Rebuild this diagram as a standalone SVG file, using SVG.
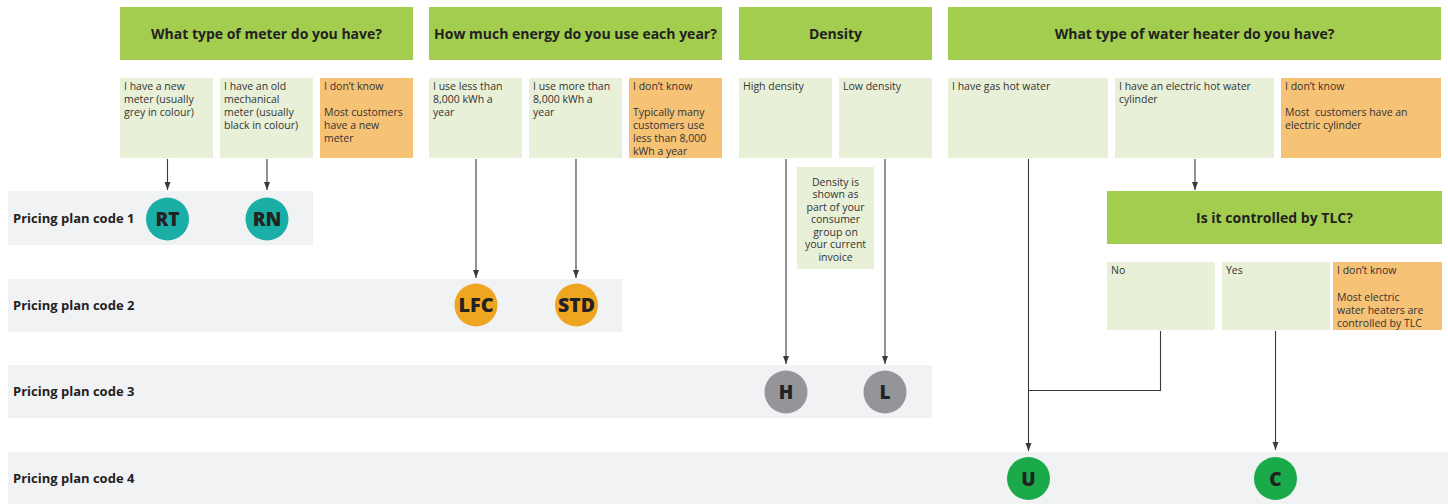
<svg xmlns="http://www.w3.org/2000/svg" width="1448" height="504" viewBox="0 0 1448 504">
<style>
.hdr{fill:#A2CD4F}
.hdr-t{font-family:"Open Sans",sans-serif;font-weight:700;font-size:14px;fill:#222;text-anchor:middle}
.opt{fill:#E9F0D8}
.dk{fill:#F6C276}
.opt-t{font-family:"Open Sans",sans-serif;font-size:10.5px;fill:#333}
.band{fill:#F1F2F4}
.band-t{font-family:"Open Sans",sans-serif;font-weight:700;font-size:13px;fill:#222}
.circ-t{font-family:"Open Sans",sans-serif;font-weight:800;font-size:19px;fill:#222;text-anchor:middle}
.note-t{font-family:"Open Sans",sans-serif;font-size:10.5px;fill:#333;text-anchor:middle}
.ln{fill:none;stroke:#3a3a3a;stroke-width:1.1}
</style>
<defs>
<marker id="arr" viewBox="0 0 8 7" refX="8" refY="3.5" markerWidth="8" markerHeight="7" markerUnits="userSpaceOnUse" orient="auto">
<path d="M0,0.5 L8,3.5 L0,6.5 Z" fill="#3a3a3a"/>
</marker>
</defs>
<rect width="1448" height="504" fill="#fff"/>

<g id="bands">
<g id="band1"><rect class="band" x="8" y="191" width="305" height="54"/><text class="band-t" x="13" y="223">Pricing plan code 1</text></g>
<g id="band2"><rect class="band" x="8" y="279" width="614" height="53"/><text class="band-t" x="13" y="310">Pricing plan code 2</text></g>
<g id="band3"><rect class="band" x="8" y="365" width="924" height="53"/><text class="band-t" x="13" y="396">Pricing plan code 3</text></g>
<g id="band4"><rect class="band" x="8" y="452" width="1440" height="52"/><text class="band-t" x="13" y="483">Pricing plan code 4</text></g>
</g>

<g id="q-meter"><rect class="hdr" x="120" y="7" width="293" height="53"/><text class="hdr-t" x="266.5" y="39">What type of meter do you have?</text></g>
<g id="q-energy"><rect class="hdr" x="429" y="7" width="293" height="53"/><text class="hdr-t" x="575.5" y="39">How much energy do you use each year?</text></g>
<g id="q-density"><rect class="hdr" x="739" y="7" width="193" height="53"/><text class="hdr-t" x="835.5" y="39">Density</text></g>
<g id="q-water"><rect class="hdr" x="948" y="7" width="493" height="53"/><text class="hdr-t" x="1194.5" y="39">What type of water heater do you have?</text></g>
<g id="q-tlc"><rect class="hdr" x="1107" y="191" width="335" height="53"/><text class="hdr-t" x="1274.5" y="223">Is it controlled by TLC?</text></g>

<g id="o-new"><rect class="opt" x="120" y="78" width="93" height="80"/><text class="opt-t"><tspan x="124" y="90">I have a new</tspan><tspan x="124" y="103">meter (usually</tspan><tspan x="124" y="116">grey in colour)</tspan></text></g>
<g id="o-old"><rect class="opt" x="220" y="78" width="93" height="80"/><text class="opt-t"><tspan x="224" y="90">I have an old</tspan><tspan x="224" y="103">mechanical</tspan><tspan x="224" y="116">meter (usually</tspan><tspan x="224" y="129">black in colour)</tspan></text></g>
<g id="o-meter-dk"><rect class="dk" x="320" y="78" width="93" height="80"/><text class="opt-t"><tspan x="324" y="90">I don’t know</tspan><tspan x="324" y="116">Most customers</tspan><tspan x="324" y="129">have a new</tspan><tspan x="324" y="142">meter</tspan></text></g>

<g id="o-less"><rect class="opt" x="429" y="78" width="93" height="80"/><text class="opt-t"><tspan x="433" y="90">I use less than</tspan><tspan x="433" y="103">8,000 kWh a</tspan><tspan x="433" y="116">year</tspan></text></g>
<g id="o-more"><rect class="opt" x="529" y="78" width="93" height="80"/><text class="opt-t"><tspan x="533" y="90">I use more than</tspan><tspan x="533" y="103">8,000 kWh a</tspan><tspan x="533" y="116">year</tspan></text></g>
<g id="o-energy-dk"><rect class="dk" x="629" y="78" width="93" height="80"/><text class="opt-t"><tspan x="633" y="90">I don’t know</tspan><tspan x="633" y="116">Typically many</tspan><tspan x="633" y="129">customers use</tspan><tspan x="633" y="142">less than 8,000</tspan><tspan x="633" y="155">kWh a year</tspan></text></g>

<g id="o-high"><rect class="opt" x="739" y="78" width="93" height="80"/><text class="opt-t" x="743" y="90">High density</text></g>
<g id="o-low"><rect class="opt" x="839" y="78" width="93" height="80"/><text class="opt-t" x="843" y="90">Low density</text></g>
<g id="density-note"><rect class="opt" x="797" y="167" width="77" height="102"/><text class="note-t"><tspan x="835.5" y="185.5">Density is</tspan><tspan x="835.5" y="198">shown as</tspan><tspan x="835.5" y="210.5">part of your</tspan><tspan x="835.5" y="223">consumer</tspan><tspan x="835.5" y="235.5">group on</tspan><tspan x="835.5" y="248">your current</tspan><tspan x="835.5" y="260.5">invoice</tspan></text></g>

<g id="o-gas"><rect class="opt" x="948" y="78" width="160" height="80"/><text class="opt-t" x="952" y="90">I have gas hot water</text></g>
<g id="o-elec"><rect class="opt" x="1115" y="78" width="159" height="80"/><text class="opt-t"><tspan x="1119" y="90">I have an electric hot water</tspan><tspan x="1119" y="103">cylinder</tspan></text></g>
<g id="o-water-dk"><rect class="dk" x="1281" y="78" width="160" height="80"/><text class="opt-t"><tspan x="1285" y="90">I don’t know</tspan><tspan x="1285" y="116">Most&#160; customers have an</tspan><tspan x="1285" y="129">electric cylinder</tspan></text></g>

<g id="o-no"><rect class="opt" x="1107" y="262" width="108" height="68"/><text class="opt-t" x="1111" y="274">No</text></g>
<g id="o-yes"><rect class="opt" x="1222" y="262" width="108" height="68"/><text class="opt-t" x="1226" y="274">Yes</text></g>
<g id="o-tlc-dk"><rect class="dk" x="1333" y="262" width="109" height="68"/><text class="opt-t"><tspan x="1337" y="274">I don’t know</tspan><tspan x="1337" y="300.5">Most electric</tspan><tspan x="1337" y="313.5">water heaters are</tspan><tspan x="1337" y="326.5">controlled by TLC</tspan></text></g>

<g id="connectors">
<line class="ln" x1="167.5" y1="159" x2="167.5" y2="190" marker-end="url(#arr)"/>
<line class="ln" x1="267" y1="159" x2="267" y2="190" marker-end="url(#arr)"/>
<line class="ln" x1="476" y1="159" x2="476" y2="278" marker-end="url(#arr)"/>
<line class="ln" x1="576" y1="159" x2="576" y2="278" marker-end="url(#arr)"/>
<line class="ln" x1="786" y1="159" x2="786" y2="364" marker-end="url(#arr)"/>
<line class="ln" x1="885" y1="159" x2="885" y2="364" marker-end="url(#arr)"/>
<line class="ln" x1="1195" y1="159" x2="1195" y2="190" marker-end="url(#arr)"/>
<line class="ln" x1="1028.5" y1="159" x2="1028.5" y2="451" marker-end="url(#arr)"/>
<polyline class="ln" points="1160.5,331 1160.5,390.5 1028.5,390.5"/>
<line class="ln" x1="1275.5" y1="331" x2="1275.5" y2="450" marker-end="url(#arr)"/>
</g>

<g id="c-RT"><circle cx="167.5" cy="219" r="21.5" fill="#1BAEA6"/><text class="circ-t" x="167.5" y="226">RT</text></g>
<g id="c-RN"><circle cx="267" cy="219" r="21.5" fill="#1BAEA6"/><text class="circ-t" x="267" y="226">RN</text></g>
<g id="c-LFC"><circle cx="476" cy="305" r="21.5" fill="#EFA520"/><text class="circ-t" x="476" y="312" textLength="35" lengthAdjust="spacingAndGlyphs">LFC</text></g>
<g id="c-STD"><circle cx="576.5" cy="305" r="21.5" fill="#EFA520"/><text class="circ-t" x="576.5" y="312" textLength="37" lengthAdjust="spacingAndGlyphs">STD</text></g>
<g id="c-H"><circle cx="786" cy="392" r="21.5" fill="#939598"/><text class="circ-t" x="786" y="399">H</text></g>
<g id="c-L"><circle cx="885" cy="392" r="21.5" fill="#939598"/><text class="circ-t" x="885" y="399">L</text></g>
<g id="c-U"><circle cx="1028.5" cy="478.5" r="21.5" fill="#1AAA4A"/><text class="circ-t" x="1028.5" y="485.5">U</text></g>
<g id="c-C"><circle cx="1275.5" cy="478.5" r="21.5" fill="#1AAA4A"/><text class="circ-t" x="1275.5" y="485.5">C</text></g>
</svg>
